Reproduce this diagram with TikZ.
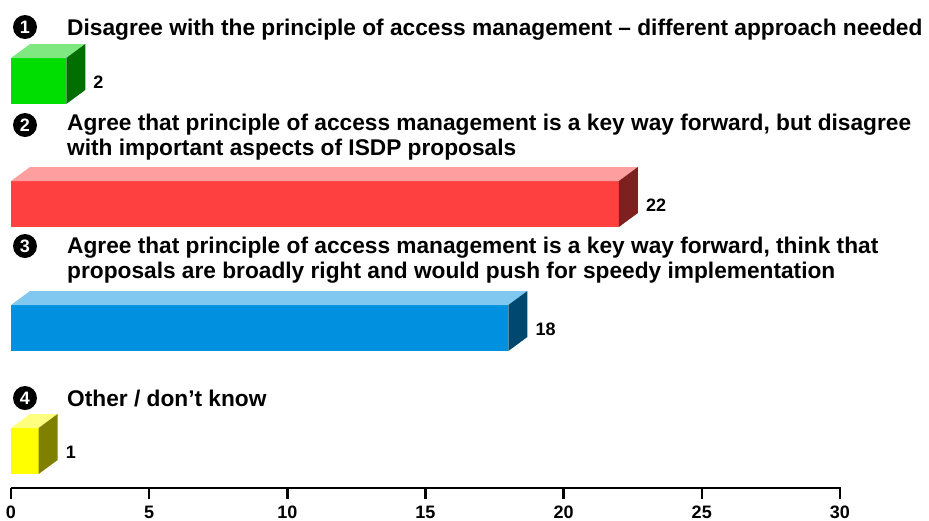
\documentclass[tikz,border=0pt]{standalone}
\usepackage{fontspec}
\setmainfont{Liberation Sans}
\definecolor{gfront}{RGB}{0,221,0}
\definecolor{gtop}{RGB}{128,232,128}
\definecolor{gside}{RGB}{0,111,0}
\definecolor{rfront}{RGB}{255,64,64}
\definecolor{rtop}{RGB}{255,158,158}
\definecolor{rside}{RGB}{127,32,32}
\definecolor{bfront}{RGB}{0,144,224}
\definecolor{btop}{RGB}{128,200,240}
\definecolor{bside}{RGB}{0,72,112}
\definecolor{yfront}{RGB}{255,255,0}
\definecolor{ytop}{RGB}{255,255,128}
\definecolor{yside}{RGB}{128,128,0}
\tikzset{
  head/.style={anchor=base west, font=\bfseries\fontsize{22.7}{25}\selectfont, inner sep=0pt},
  numc/.style={circle, fill=black, text=white, minimum size=24pt, inner sep=0pt, font=\bfseries\fontsize{18}{18}\selectfont},
  val/.style={anchor=west, font=\bfseries\fontsize{18}{18}\selectfont, inner sep=0pt},
  ticklab/.style={anchor=base, font=\bfseries\fontsize{18}{18}\selectfont, inner sep=0pt},
  axisline/.style={line width=2.5pt},
}
\newcommand\cubebar[7]{%
  \pgfmathsetmacro\rx{11+#3*27.63}%
  \coordinate (#1a) at (11,#2);
  \coordinate (#1b) at (\rx,#2+46);
  \fill[#4] (#1a) rectangle (#1b);
  \fill[#5] (#1a) -- ++(19,-14) -- (\rx+19,#2-14) -- (\rx,#2) -- cycle;
  \fill[#6] (\rx,#2) -- (\rx+19,#2-14) -- (\rx+19,#2+32) -- (\rx,#2+46) -- cycle;
  \node[val] (#1v) at (\rx+27,#2+24) {#7};
}
\begin{document}
\begin{tikzpicture}[x=1pt,y=-1pt]
\useasboundingbox (0,0) rectangle (929,520);
% headings
\node[numc] (n1) at (25,27) {1};
\node[head] (h1) at (67,35) {Disagree with the principle of access management – different approach needed};
\node[numc] (n2) at (25,125) {2};
\node[head] (h2a) at (67,130) {Agree that principle of access management is a key way forward, but disagree};
\node[head] (h2b) at (67,155) {with important aspects of ISDP proposals};
\node[numc] (n3) at (25,246) {3};
\node[head] (h3a) at (67,253) {Agree that principle of access management is a key way forward, think that};
\node[head] (h3b) at (67,278) {proposals are broadly right and would push for speedy implementation};
\node[numc] (n4) at (25,398) {4};
\node[head] (h4) at (67,406) {Other / don’t know};
% bars
\cubebar{b1}{58}{2}{gfront}{gtop}{gside}{2}
\cubebar{b2}{181}{22}{rfront}{rtop}{rside}{22}
\cubebar{b3}{305}{18}{bfront}{btop}{bside}{18}
\cubebar{b4}{428}{1}{yfront}{ytop}{yside}{1}
% axis
\coordinate (ax0) at (11,488);
\coordinate (ax1) at (841,488);
\draw[axisline] (ax0) -- (ax1);
\foreach \v in {0,5,...,30}{
  \coordinate (t\v) at (11+\v*27.63,488);
  \draw[axisline] (t\v) -- ++(0,11);
  \node[ticklab] (l\v) at (11+\v*27.63,518) {\v};
}
\end{tikzpicture}
\end{document}
